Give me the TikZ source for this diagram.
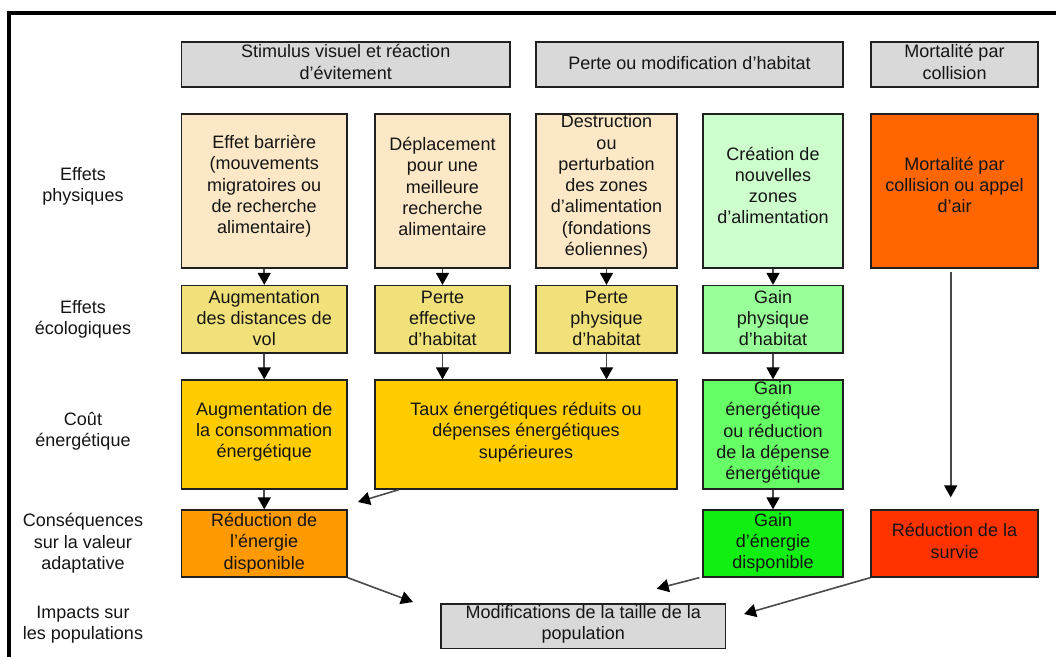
\documentclass[tikz,border=0pt]{standalone}
\usepackage{fontspec}
\setmainfont{Liberation Sans}
\usetikzlibrary{arrows.meta}
\definecolor{hdrgray}{HTML}{D9D9D9}
\definecolor{peach}{HTML}{FCE8C6}
\definecolor{palegreen}{HTML}{CCFFCC}
\definecolor{hotorange}{HTML}{FF6600}
\definecolor{sand}{HTML}{F1E17A}
\definecolor{midgreen}{HTML}{99FF99}
\definecolor{gold}{HTML}{FFCC00}
\definecolor{brightgreen}{HTML}{66FF66}
\definecolor{amber}{HTML}{FF9900}
\definecolor{puregreen}{HTML}{11EE11}
\definecolor{redorange}{HTML}{FF3300}
\definecolor{edge}{HTML}{202020}
\definecolor{lnk}{HTML}{4A4A4A}
\definecolor{txt}{HTML}{151515}
\begin{document}
\begin{tikzpicture}[x=1pt,y=-1pt,
  every node/.style={font=\fontsize{18}{21.3}\selectfont, text=txt},
  box/.style={draw=edge, line width=1.3pt, inner sep=0pt},
  sz/.style 2 args={minimum width=#1pt, minimum height=#2pt},
  lbl/.style={align=center, inner sep=0pt},
  link/.style={draw=lnk, line width=1.6pt, -{Triangle[width=13pt,length=12pt,color=black]}}
]
\useasboundingbox (0,0) rectangle (1056,656);
\fill[white] (0,0) rectangle (1056,656);
% outer frame
\draw[line width=3.3pt, black] (9,658) -- (9,13) -- (1058,13);

% column headers
\node[box, fill=hdrgray, sz={328.5}{45}] (H1) at (345.75,64.5) {};
\node[box, fill=hdrgray, sz={307}{45}] (H2) at (689.5,64.5) {};
\node[box, fill=hdrgray, sz={167}{45}] (H3) at (954.5,64.5) {};
\node[lbl] (H1t) at ([yshift=2.5pt]H1.center) {Stimulus visuel et réaction\\d’évitement};
\node[lbl] (H2t) at ([yshift=1.5pt]H2.center) {Perte ou modification d’habitat};
\node[lbl] (H3t) at ([yshift=2.5pt]H3.center) {Mortalité par\\collision};

% row labels
\node[lbl] (L1) at (83,186) {Effets\\physiques};
\node[lbl] (L2) at (83,319.5) {Effets\\écologiques};
\node[lbl] (L3) at (83,431.5) {Coût\\énergétique};
\node[lbl] (L4) at (83,543.5) {Conséquences\\sur la valeur\\adaptative};
\node[lbl] (L5) at (83,624.5) {Impacts sur\\les populations};

% physical effects
\node[box, fill=peach, sz={165.5}{154}] (A1) at (264.25,191) {};
\node[box, fill=peach, sz={135}{154}] (B1) at (442.5,191) {};
\node[box, fill=peach, sz={141}{154}] (C1) at (606.5,191) {};
\node[box, fill=palegreen, sz={140}{154}] (D1) at (773,191) {};
\node[box, fill=hotorange, sz={167}{154}] (E1) at (954.5,191) {};
\node[lbl] (A1t) at ([yshift=4.5pt]A1.center) {Effet barrière\\(mouvements\\migratoires ou\\de recherche\\alimentaire)};
\node[lbl] (B1t) at ([yshift=4.5pt]B1.center) {Déplacement\\pour une\\meilleure\\recherche\\alimentaire};
\node[lbl] (C1t) at ([yshift=4pt]C1.center) {Destruction\\ou\\perturbation\\des zones\\d’alimentation\\(fondations\\éoliennes)};
\node[lbl] (D1t) at ([yshift=5.5pt]D1.center) {Création de\\nouvelles\\zones\\d’alimentation};
\node[lbl] (E1t) at ([yshift=6pt]E1.center) {Mortalité par\\collision ou appel\\d’air};

% ecological effects
\node[box, fill=sand, sz={165.5}{67.5}] (A2) at (264.25,319.25) {};
\node[box, fill=sand, sz={135}{67.5}] (B2) at (442.5,319.25) {};
\node[box, fill=sand, sz={141}{67.5}] (C2) at (606.5,319.25) {};
\node[box, fill=midgreen, sz={140}{67.5}] (D2) at (773,319.25) {};
\node[lbl] (A2t) at ([yshift=1pt]A2.center) {Augmentation\\des distances de\\vol};
\node[lbl] (B2t) at ([yshift=1pt]B2.center) {Perte\\effective\\d’habitat};
\node[lbl] (C2t) at ([yshift=1pt]C2.center) {Perte\\physique\\d’habitat};
\node[lbl] (D2t) at ([yshift=1pt]D2.center) {Gain\\physique\\d’habitat};

% energy cost
\node[box, fill=gold, sz={165.5}{109}] (A3) at (264.25,434.5) {};
\node[box, fill=gold, sz={302}{109}] (B3) at (526,434.5) {};
\node[box, fill=brightgreen, sz={140}{109}] (D3) at (773,434.5) {};
\node[lbl] (A3t) at ([yshift=2.5pt]A3.center) {Augmentation de\\la consommation\\énergétique};
\node[lbl] (B3t) at ([yshift=2.5pt]B3.center) {Taux énergétiques réduits ou\\dépenses énergétiques\\supérieures};
\node[lbl] (D3t) at ([yshift=2pt]D3.center) {Gain\\énergétique\\ou réduction\\de la dépense\\énergétique};

% fitness consequences
\node[box, fill=amber, sz={165.5}{67}] (A4) at (264.25,543.5) {};
\node[box, fill=puregreen, sz={140}{67}] (D4) at (773,543.5) {};
\node[box, fill=redorange, sz={167}{67}] (E4) at (954.5,543.5) {};
\node[lbl] (A4t) at ([yshift=0.5pt]A4.center) {Réduction de\\l’énergie\\disponible};
\node[lbl] (D4t) at ([yshift=0.5pt]D4.center) {Gain\\d’énergie\\disponible};
\node[lbl] (E4t) at ([yshift=2.5pt]E4.center) {Réduction de la\\survie};

% population impact
\node[box, fill=hdrgray, sz={284.5}{44.5}] (P) at (583.25,626.25) {};
\node[lbl] (Pt) at ([yshift=2pt]P.center) {Modifications de la taille de la\\population};

% free arrow ends
\coordinate (tA4) at (358,502);
\coordinate (tPa) at (413,602);
\coordinate (tPd) at (656.7,588.7);
\coordinate (tPe) at (744,614);

% connectors
\draw[link] (A1) -- (A2);
\draw[link] (B1) -- (B2);
\draw[link] (C1) -- (C2);
\draw[link] (D1) -- (D2);
\draw[link] (A2) -- (A3);
\draw[link] (B2.south) -- (B2.south |- B3.north);
\draw[link] (C2.south) -- (C2.south |- B3.north);
\draw[link] (D2) -- (D3);
\draw[link] (A3) -- (A4);
\draw[link] (D3) -- (D4);
\draw[link, shorten <=3pt, shorten >=12pt] ([xshift=-3.8pt]E1.south) -- ([xshift=-3.8pt]E4.north);
\draw[link] ([xshift=24.5pt]B3.south west) -- (tA4);
\draw[link] (A4.south east) -- (tPa);
\draw[link] ([xshift=-3pt]D4.south west) -- (tPd);
\draw[link] (E4.south west) -- (tPe);
\end{tikzpicture}
\end{document}
